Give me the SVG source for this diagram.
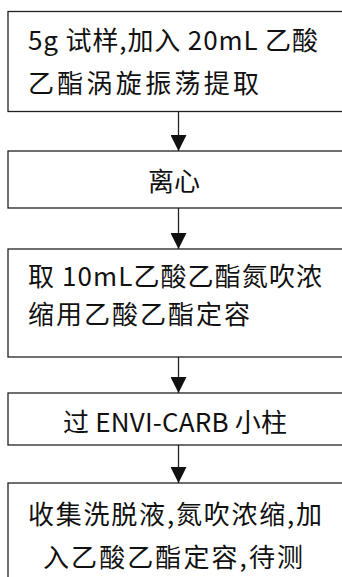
<svg xmlns="http://www.w3.org/2000/svg" width="342" height="577" viewBox="0 0 342 577">
<style>
.box{fill:#fff;stroke:#222;stroke-width:1.3}
.t{font-family:"Noto Sans CJK SC","Noto Sans",sans-serif;font-size:26px;fill:#111}
.c{text-anchor:middle}
.conn line{stroke:#222;stroke-width:1.3}
</style>
<defs>
<marker id="ah" markerUnits="userSpaceOnUse" markerWidth="18" markerHeight="16" refX="16" refY="8" orient="auto">
<polygon points="0,0 16,8 0,16" fill="#111"/>
</marker>
</defs>
<rect width="342" height="577" fill="#fff"/>
<g id="connectors" class="conn">
<line x1="178.5" y1="111.5" x2="178.5" y2="151" marker-end="url(#ah)"/>
<line x1="178.5" y1="208" x2="178.5" y2="249" marker-end="url(#ah)"/>
<line x1="178.5" y1="357" x2="178.5" y2="393" marker-end="url(#ah)"/>
<line x1="178.5" y1="445" x2="178.5" y2="483" marker-end="url(#ah)"/>
</g>
<g id="n1">
<rect class="box" x="8" y="11.5" width="345" height="100"/>
<text class="t" x="28" y="50" textLength="290" lengthAdjust="spacing">5g 试样,加入 20mL 乙酸</text>
<text class="t" x="28" y="93" textLength="231" lengthAdjust="spacing">乙酯涡旋振荡提取</text>
</g>
<g id="n2">
<rect class="box" x="8" y="151" width="345" height="57"/>
<text class="t c" x="174" y="191">离心</text>
</g>
<g id="n3">
<rect class="box" x="8" y="249" width="345" height="108"/>
<text class="t" x="28" y="285.5" textLength="294" lengthAdjust="spacing">取 10mL乙酸乙酯氮吹浓</text>
<text class="t" x="28" y="324" textLength="222" lengthAdjust="spacing">缩用乙酸乙酯定容</text>
</g>
<g id="n4">
<rect class="box" x="8" y="393" width="345" height="52"/>
<text class="t" x="63" y="431.5" textLength="224" lengthAdjust="spacing">过 ENVI-CARB 小柱</text>
</g>
<g id="n5">
<rect class="box" x="8" y="483" width="345" height="110"/>
<text class="t" x="28" y="524" textLength="294" lengthAdjust="spacing">收集洗脱液,氮吹浓缩,加</text>
<text class="t" x="43" y="566.5" textLength="260" lengthAdjust="spacing">入乙酸乙酯定容,待测</text>
</g>
</svg>
